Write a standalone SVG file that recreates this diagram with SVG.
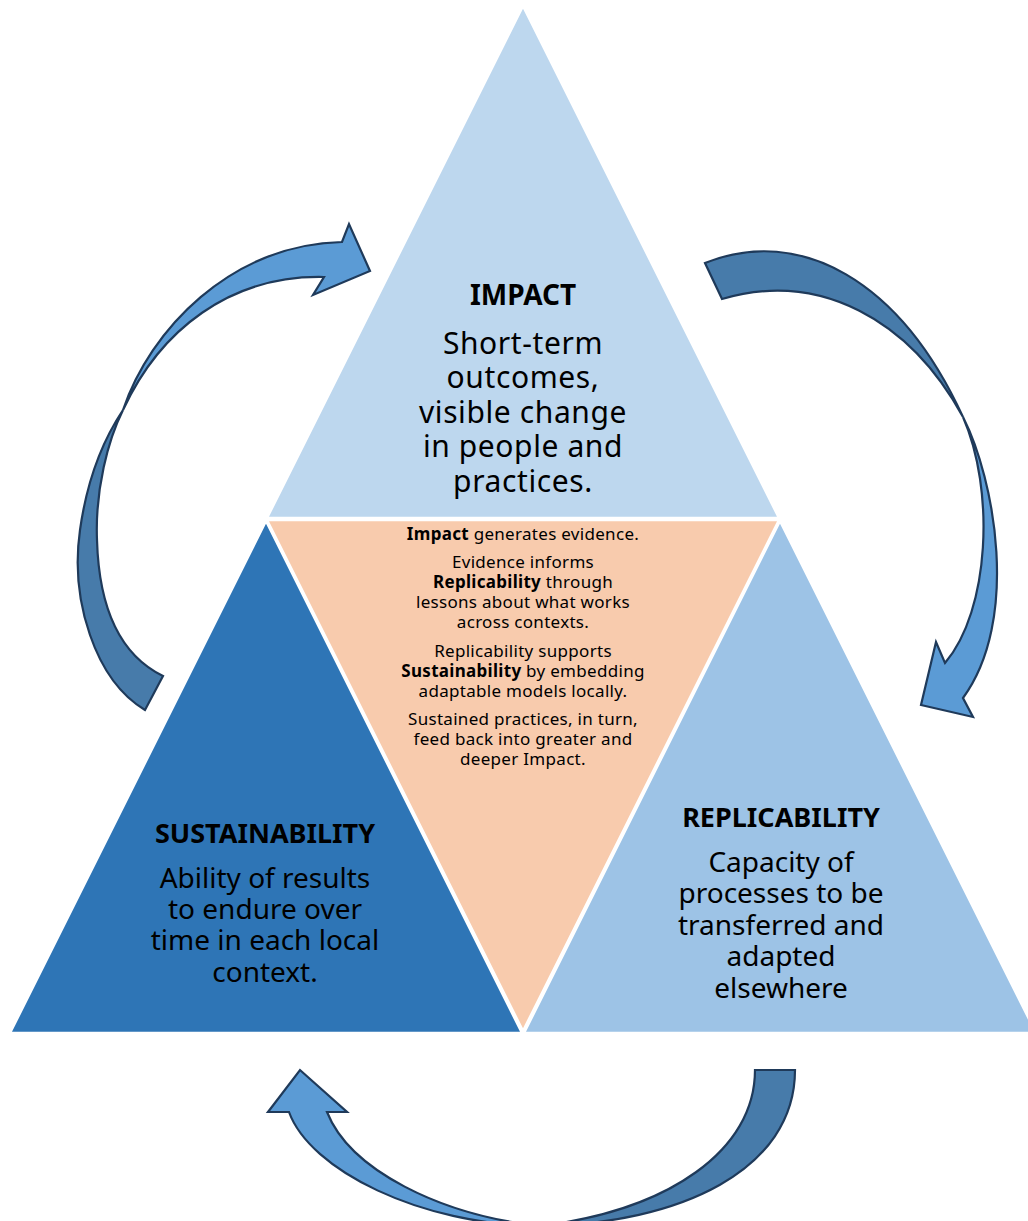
<svg xmlns="http://www.w3.org/2000/svg" width="1028" height="1221" viewBox="0 0 1028 1221">
<style>
.tri{stroke:#fff;stroke-width:2.5;stroke-linejoin:miter}
.arr{stroke:#1F3A5A;stroke-width:2.2;stroke-linejoin:miter}
.dk{fill:#477BAA}
.lt{fill:#5B9BD5}
text{font-family:"Noto Sans","Open Sans","DejaVu Sans",sans-serif;fill:#000;text-anchor:middle}
.h{font-weight:bold;font-size:27px}
.hi{font-weight:bold;font-size:28px}
.b{font-size:28px}
.bi{font-size:30px;letter-spacing:0.6px}
.c{font-size:17px;letter-spacing:0.3px}
.c tspan.k{font-weight:bold}
</style>
<rect width="1028" height="1221" fill="#fff"/>
<g id="node-impact">
<polygon class="tri" points="523,6 779,518 267,518" fill="#BDD7EE"/>
<text class="hi" x="523" y="305">IMPACT</text>
<text class="bi" x="523" y="354">Short-term</text>
<text class="bi" x="523" y="388">outcomes,</text>
<text class="bi" x="523" y="423">visible change</text>
<text class="bi" x="523" y="457">in people and</text>
<text class="bi" x="523" y="492">practices.</text>
</g>
<g id="node-center">
<polygon class="tri" points="267,520 779,520 523,1031" fill="#F8CBAD"/>
<text class="c" x="523" y="540"><tspan class="k">Impact</tspan> generates evidence.</text>
<text class="c" x="523" y="568">Evidence informs</text>
<text class="c" x="523" y="588"><tspan class="k">Replicability</tspan> through</text>
<text class="c" x="523" y="608">lessons about what works</text>
<text class="c" x="523" y="628">across contexts.</text>
<text class="c" x="523" y="657">Replicability supports</text>
<text class="c" x="523" y="677"><tspan class="k">Sustainability</tspan> by embedding</text>
<text class="c" x="523" y="697">adaptable models locally.</text>
<text class="c" x="523" y="725">Sustained practices, in turn,</text>
<text class="c" x="523" y="745">feed back into greater and</text>
<text class="c" x="523" y="765">deeper Impact.</text>
</g>
<g id="node-sustainability">
<polygon class="tri" points="266,521 522,1033 10,1033" fill="#2E75B6"/>
<text class="h" x="265" y="843">SUSTAINABILITY</text>
<text class="b" x="265" y="888">Ability of results</text>
<text class="b" x="265" y="919">to endure over</text>
<text class="b" x="265" y="950">time in each local</text>
<text class="b" x="265" y="982">context.</text>
</g>
<g id="node-replicability">
<polygon class="tri" points="780,521 1036,1033 524,1033" fill="#9DC3E6"/>
<text class="h" x="781" y="827">REPLICABILITY</text>
<text class="b" x="781" y="872">Capacity of</text>
<text class="b" x="781" y="903">processes to be</text>
<text class="b" x="781" y="935">transferred and</text>
<text class="b" x="781" y="966">adapted</text>
<text class="b" x="781" y="998">elsewhere</text>
</g>
<g id="connectors">
<g id="arrow-left">
<path class="arr dk" d="M145,710 C95,680 70,600 80,530 C87,480 103,440 123,410 C108,440 95,490 97,540 C99,610 120,655 163,676 Z"/>
<path class="arr lt" d="M123,410 C150,330 230,245 342,242 L349,224 L370,271 L313,295 L324,277 C230,275 160,330 123,410 Z"/>
</g>
<g id="arrow-right">
<path class="arr dk" d="M705,263 C800,225 900,280 963,417 C910,320 820,270 722,299 Z"/>
<path class="arr lt" d="M963,417 C995,480 1020,620 963,698 L973,717 L921,705 L936,642 L945,663 C990,610 995,490 963,417 Z"/>
</g>
<g id="arrow-bottom">
<path class="arr dk" d="M540,1226 C680,1224 795,1170 795,1070 L755,1070 C755,1150 670,1210 540,1226 Z"/>
<path class="arr lt" d="M540,1226 C420,1225 310,1170 289,1112 L268,1112 L300,1070 L347,1112 L327,1112 C350,1170 440,1215 540,1226 Z"/>
</g>
</g>
</svg>
